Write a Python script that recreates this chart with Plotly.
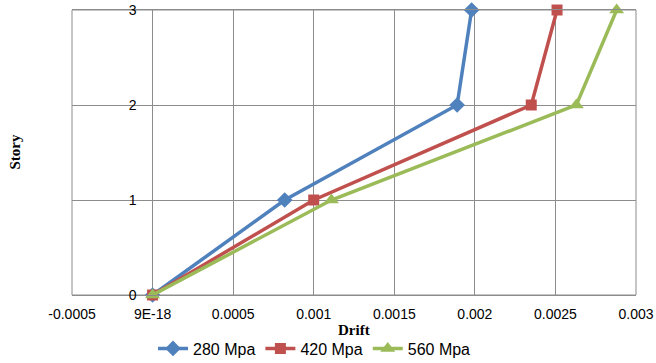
import plotly.graph_objects as go

stories = [0, 1, 2, 3]
drift_280 = [0.0, 0.00082, 0.00189, 0.00198]
drift_420 = [0.0, 0.00100, 0.00235, 0.00251]
drift_560 = [0.0, 0.00111, 0.00263, 0.00288]
series_names = ["280 Mpa", "420 Mpa", "560 Mpa"]
x_tickvals = [-0.0005, 0.0, 0.0005, 0.001, 0.0015, 0.002, 0.0025, 0.003]
x_ticktext = ["-0.0005", "9E-18", "0.0005", "0.001", "0.0015", "0.002", "0.0025", "0.003"]
y_tickvals = [0, 1, 2, 3]

colors = ["#4F81BD", "#C0504D", "#9BBB59"]
symbols = ["diamond", "square", "triangle-up"]
sizes = [12, 11, 13]

fig = go.Figure()
for name, xs, c, s, sz in zip(series_names, [drift_280, drift_420, drift_560], colors, symbols, sizes):
    fig.add_trace(go.Scatter(x=xs, y=stories, mode="lines+markers", name=name, cliponaxis=False,
                             line=dict(color=c, width=3.5),
                             marker=dict(symbol=s, size=sz, color=c)))

xmin, xmax = -0.0005, 0.003
grid = "#8C8C8C"
fig.update_layout(
    width=656, height=363,
    margin=dict(l=72, r=20, t=10, b=68, autoexpand=False),
    paper_bgcolor="white", plot_bgcolor="white",
    font=dict(family="Liberation Sans, Arial", size=14, color="black"),
    showlegend=True,
    legend=dict(orientation="h", x=0.43, xanchor="center", yref="container", y=0.04, yanchor="middle",
                font=dict(size=16), itemwidth=30, tracegroupgap=0),
    xaxis=dict(range=[xmin, xmax], tickvals=x_tickvals, ticktext=x_ticktext,
               showgrid=True, gridcolor=grid, gridwidth=1, zeroline=False, automargin=False,
               showline=True, linecolor=grid, linewidth=1, mirror=True, ticks="",
               ticklabelstandoff=6, tickfont=dict(size=14)),
    yaxis=dict(range=[0, 3], tickvals=y_tickvals, showgrid=True, gridcolor=grid, gridwidth=1,
               zeroline=False, showline=False, ticks="", anchor="free", automargin=False,
               position=(0 - xmin) / (xmax - xmin), ticklabelstandoff=16, tickfont=dict(size=14)),
    shapes=[dict(type="rect", xref="paper", yref="paper", x0=0, x1=1, y0=0, y1=1,
                 line=dict(color=grid, width=1), layer="below")],
    annotations=[
        dict(text="<b>Drift</b>", xref="paper", yref="paper", x=0.5, y=0, yshift=-35,
             showarrow=False, font=dict(family="Liberation Serif", size=15), yanchor="middle"),
        dict(text="<b>Story</b>", xref="paper", yref="paper", x=0, xshift=-68, y=0.5,
             textangle=-90, showarrow=False, font=dict(family="Liberation Serif", size=15)),
    ],
)
fig.write_html("out.html")
